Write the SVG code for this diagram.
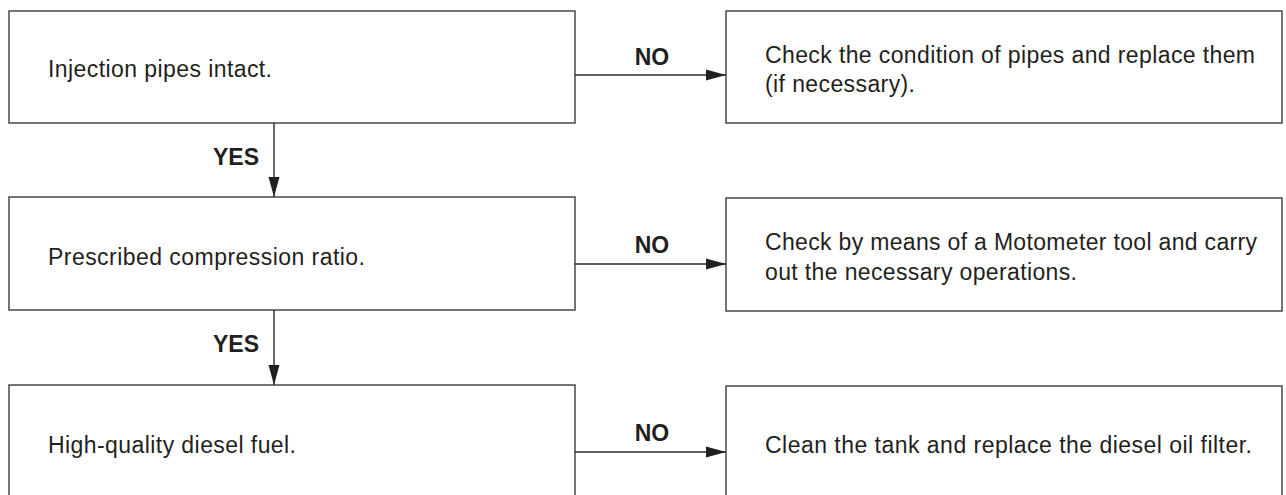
<svg xmlns="http://www.w3.org/2000/svg" width="1286" height="495" viewBox="0 0 1286 495">
  <style>
    .box { fill: #ffffff; stroke: #3c3c3c; stroke-width: 1.4; }
    .txt { font-family: "Liberation Sans", Arial, sans-serif; font-size: 23px; fill: #231f20; }
    .lbl { font-family: "Liberation Sans", Arial, sans-serif; font-size: 23px; font-weight: bold; fill: #231f20; }
    .conn { stroke: #2a2a2a; stroke-width: 1.4; fill: none; }
  </style>
  <defs>
    <marker id="arrow" markerUnits="userSpaceOnUse" markerWidth="20" markerHeight="12" refX="20" refY="6" orient="auto">
      <path d="M0,0.5 L20,6 L0,11.5 Z" fill="#231f20"/>
    </marker>
  </defs>
  <rect width="1286" height="495" fill="#ffffff"/>

  <g id="q1">
    <rect class="box" x="9" y="11" width="566" height="112"/>
    <text class="txt" x="48" y="77" textLength="224">Injection pipes intact.</text>
  </g>
  <g id="a1">
    <rect class="box" x="726" y="11" width="556" height="112"/>
    <text class="txt" x="765" y="63" textLength="490">Check the condition of pipes and replace them</text>
    <text class="txt" x="765" y="92" textLength="150">(if necessary).</text>
  </g>

  <g id="q2">
    <rect class="box" x="9" y="197" width="566" height="113"/>
    <text class="txt" x="48" y="265" textLength="317">Prescribed compression ratio.</text>
  </g>
  <g id="a2">
    <rect class="box" x="726" y="198" width="556" height="113"/>
    <text class="txt" x="765" y="250" textLength="492">Check by means of a Motometer tool and carry</text>
    <text class="txt" x="765" y="280" textLength="312">out the necessary operations.</text>
  </g>

  <g id="q3">
    <rect class="box" x="9" y="385" width="566" height="125"/>
    <text class="txt" x="48" y="453" textLength="248">High-quality diesel fuel.</text>
  </g>
  <g id="a3">
    <rect class="box" x="726" y="386" width="556" height="125"/>
    <text class="txt" x="765" y="453" textLength="487">Clean the tank and replace the diesel oil filter.</text>
  </g>

  <g id="connectors">
    <line class="conn" x1="575" y1="75" x2="726" y2="75" marker-end="url(#arrow)"/>
    <line class="conn" x1="575" y1="264" x2="726" y2="264" marker-end="url(#arrow)"/>
    <line class="conn" x1="575" y1="452" x2="726" y2="452" marker-end="url(#arrow)"/>
    <line class="conn" x1="274" y1="123" x2="274" y2="197" marker-end="url(#arrow)"/>
    <line class="conn" x1="274" y1="310" x2="274" y2="385" marker-end="url(#arrow)"/>
    <text class="lbl" x="652" y="65" text-anchor="middle">NO</text>
    <text class="lbl" x="652" y="253" text-anchor="middle">NO</text>
    <text class="lbl" x="652" y="441" text-anchor="middle">NO</text>
    <text class="lbl" x="259" y="165" text-anchor="end">YES</text>
    <text class="lbl" x="259" y="352" text-anchor="end">YES</text>
  </g>
</svg>
